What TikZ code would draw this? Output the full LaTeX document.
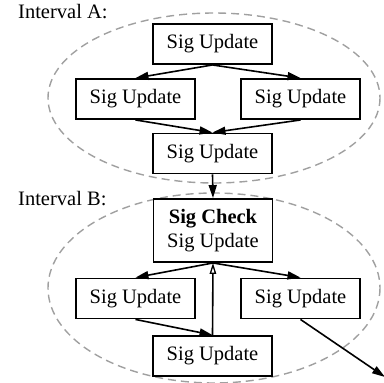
\documentclass[tikz,border=0pt]{standalone}
\usepackage{fontspec}
\setmainfont{Liberation Serif}
\usetikzlibrary{arrows.meta}
\definecolor{ringgray}{HTML}{A0A0A0}
\begin{document}
\begin{tikzpicture}[x=1pt,y=-1pt,
  font=\fontsize{20.5}{24.5}\selectfont,
  blk/.style={draw=black,line width=1.9pt,rectangle,minimum width=119pt,minimum height=40pt,inner sep=0pt,align=center},
  ring/.style={draw=ringgray,line width=1.4pt,dash pattern=on 8pt off 5pt},
  flow/.style={draw=black,line width=1.6pt,-{Triangle[length=13pt,width=8pt]}},
  back/.style={draw=black,line width=1.6pt,-{Triangle[open,length=11pt,width=6.5pt,line width=1.3pt]}},
  lbl/.style={anchor=west,inner sep=0pt}]
\useasboundingbox (0,0) rectangle (384,383);

% dashed boundaries of the two intervals
\draw[ring] (214,98) ellipse (166 and 85);
\draw[ring] (214,288) ellipse (166 and 95);

\node[lbl] (la) at (18,12) {Interval A:};
\node[lbl] (lb) at (18,199) {Interval B:};

% interval A
\node[blk] (a1) at (212.5,44) {Sig Update};
\node[blk] (a2) at (135.5,99) {Sig Update};
\node[blk] (a3) at (300.5,99) {Sig Update};
\node[blk] (a4) at (212.5,153.5) {Sig Update};

% interval B
\node[blk,minimum height=63pt] (b1) at (213,230.5) {\textbf{Sig Check}\\Sig Update};
\node[blk] (b2) at (135.5,298.5) {Sig Update};
\node[blk] (b3) at (300.5,298.5) {Sig Update};
\node[blk] (b4) at (212.5,356) {Sig Update};
\coordinate (out) at (385,377);

\draw[flow] (a1.south) -- (a2.north);
\draw[flow] (a1.south) -- (a3.north);
\draw[flow] (a2.south) -- (a4.north);
\draw[flow] (a3.south) -- (a4.north);
\draw[flow] (a4.south) -- (b1.north);

\draw[flow] (b1.south) -- (b2.north);
\draw[flow] (b1.south) -- (b3.north);
\draw[flow] (b2.south) -- (b4.north);
\draw[back] (b4.north) -- (b1.south);
\draw[flow] (b3.south) -- (out);
\end{tikzpicture}
\end{document}
